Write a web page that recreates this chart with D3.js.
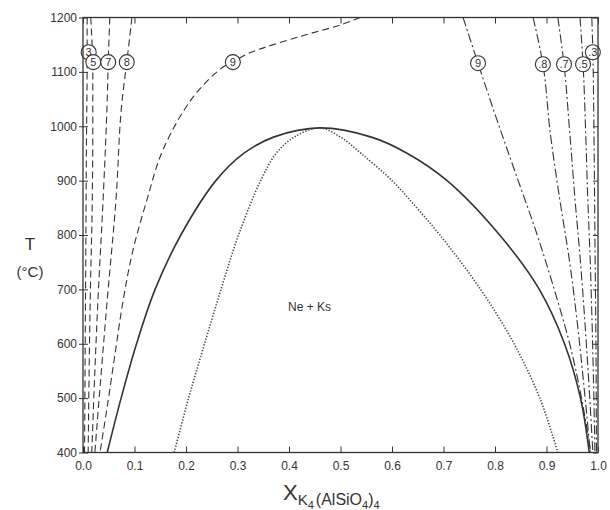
<!DOCTYPE html>
<html>
<head>
<meta charset="utf-8">
<script src="https://cdn.jsdelivr.net/npm/d3@7"></script>
<style>
  body { margin: 0; background: #fff; }
  text { font-family: "Liberation Sans", Arial, sans-serif; fill: #333; }
</style>
</head>
<body>
<svg id="chart"></svg>
<script>
// solvus (solid) and spinodal (dotted), [x, T]
const solvus = [[0.047,400],[0.074,500],[0.104,600],[0.14,700],[0.19,800],[0.258,900],[0.312,950],[0.37,980],[0.46,997],[0.56,980],[0.63,950],[0.707,900],[0.809,800],[0.886,700],[0.935,600],[0.966,500],[0.983,400]]
const spinodal = [[0.177,400],[0.205,500],[0.236,600],[0.268,700],[0.302,800],[0.345,900],[0.375,950],[0.41,980],[0.46,997],[0.5,980],[0.54,950],[0.6,900],[0.648,850],[0.693,800],[0.772,700],[0.837,600],[0.887,500],[0.922,400]]

// isopleths, left branch (dashed)
const leftLines = [
  {label: "3", pos: [0.011,1136], pts: [[0.008,1200],[0.008,1100],[0.007,1000],[0.005,700],[0.003,400]]},
  {label: "5", pos: [0.02,1118], pts: [[0.015,1200],[0.019,1100],[0.019,1000],[0.018,864],[0.014,680],[0.01,400]]},
  {label: "7", pos: [0.049,1118], pts: [[0.052,1200],[0.049,1118],[0.047,1048],[0.039,864],[0.029,680],[0.017,400]]},
  {label: "8", pos: [0.085,1118], pts: [[0.095,1200],[0.085,1118],[0.076,1048],[0.064,864],[0.047,680],[0.023,400]]},
  {label: "9", pos: [0.291,1118], pts: [[0.538,1200],[0.499,1186],[0.421,1165],[0.324,1135],[0.291,1118],[0.272,1109],[0.214,1054],[0.155,956],[0.124,864],[0.097,772],[0.078,680],[0.062,580],[0.047,484],[0.033,400]]}
]
// isopleths, right branch (dash-dot)
const rightLines = [
  {label: "9", pos: [0.767,1116], pts: [[0.738,1200],[0.767,1116],[0.808,1000],[0.845,900],[0.882,800],[0.915,700],[0.945,600],[0.968,500],[0.986,400]]},
  {label: ".8", pos: [0.893,1114], pts: [[0.874,1200],[0.893,1114],[0.907,990],[0.925,870],[0.945,750],[0.962,620],[0.975,500],[0.985,400]]},
  {label: ".7", pos: [0.934,1114], pts: [[0.922,1200],[0.934,1114],[0.945,990],[0.955,870],[0.966,750],[0.976,620],[0.984,500],[0.99,400]]},
  {label: ".5", pos: [0.971,1114], pts: [[0.965,1200],[0.971,1114],[0.976,990],[0.98,870],[0.985,750],[0.989,620],[0.992,500],[0.994,400]]},
  {label: ".3", pos: [0.99,1136], pts: [[0.988,1200],[0.99,1136],[0.992,1000],[0.994,800],[0.996,600],[0.997,400]]}
]

const xTicks = [0, 0.1, 0.2, 0.3, 0.4, 0.5, 0.6, 0.7, 0.8, 0.9, 1.0]
const yTicks = [400, 500, 600, 700, 800, 900, 1000, 1100, 1200]

const width = 610
const height = 510
const marginLeft = 83
const marginRight = 12
const marginTop = 17.5
const marginBottom = 57.5

const svg = d3.select("#chart")
    .attr("width", width)
    .attr("height", height)
    .attr("viewBox", [0, 0, width, height])

const x = d3.scaleLinear([0, 1], [marginLeft, width - marginRight])
const y = d3.scaleLinear([400, 1200], [height - marginBottom, marginTop])
const line = d3.line().x(d => x(d[0])).y(d => y(d[1])).curve(d3.curveMonotoneY)
const lineC = d3.line().x(d => x(d[0])).y(d => y(d[1])).curve(d3.curveCatmullRom.alpha(0.5))

svg.append("clipPath").attr("id", "clip")
  .append("rect")
    .attr("x", marginLeft).attr("y", marginTop)
    .attr("width", width - marginLeft - marginRight)
    .attr("height", height - marginTop - marginBottom)

const plot = svg.append("g").attr("clip-path", "url(#clip)")

plot.append("path")
    .attr("d", lineC(solvus))
    .attr("fill", "none").attr("stroke", "#333").attr("stroke-width", 1.6)

plot.append("path")
    .attr("d", lineC(spinodal))
    .attr("fill", "none").attr("stroke", "#444").attr("stroke-width", 1.6)
    .attr("stroke-dasharray", "1.3,1.7")

leftLines.forEach(d => {
  plot.append("path")
      .attr("d", (d.label === "9" ? lineC : line)(d.pts))
      .attr("fill", "none").attr("stroke", "#333").attr("stroke-width", 1.1)
      .attr("stroke-dasharray", "7,4")
})
rightLines.forEach(d => {
  plot.append("path")
      .attr("d", line(d.pts))
      .attr("fill", "none").attr("stroke", "#333").attr("stroke-width", 1.1)
      .attr("stroke-dasharray", "9,3,2,3")
})

// circled labels
const labels = svg.append("g")
  .selectAll("g")
  .data(leftLines.concat(rightLines))
  .join("g")
    .attr("transform", d => `translate(${x(d.pos[0])},${y(d.pos[1])})`)
labels.append("circle")
    .attr("r", 7.5).attr("fill", "#fff").attr("stroke", "#333").attr("stroke-width", 1.1)
labels.append("text")
    .attr("text-anchor", "middle").attr("dy", "0.36em")
    .attr("font-size", 11)
    .text(d => d.label)

// frame and ticks
svg.append("rect")
    .attr("x", marginLeft).attr("y", marginTop)
    .attr("width", width - marginLeft - marginRight)
    .attr("height", height - marginTop - marginBottom)
    .attr("fill", "none").attr("stroke", "#333").attr("stroke-width", 1.3)

svg.append("g")
    .attr("transform", `translate(0,${height - marginBottom})`)
    .call(d3.axisBottom(x).tickValues(xTicks).tickFormat(d3.format(".1f")).tickSize(-6).tickPadding(9))
    .call(g => g.select(".domain").remove())
    .call(g => g.selectAll("line").attr("stroke", "#333"))
    .call(g => g.selectAll("text").attr("font-size", 12).attr("fill", "#333"))

svg.append("g")
    .attr("transform", `translate(0,${marginTop})`)
    .call(d3.axisTop(x).tickValues(xTicks).tickFormat("").tickSize(-6))
    .call(g => g.select(".domain").remove())
    .call(g => g.selectAll("line").attr("stroke", "#333"))

svg.append("g")
    .attr("transform", `translate(${marginLeft},0)`)
    .call(d3.axisLeft(y).tickValues(yTicks).tickFormat(d3.format("d")).tickSize(5).tickPadding(4))
    .call(g => g.select(".domain").remove())
    .call(g => g.selectAll("line").attr("x2", 5).attr("x1", -4).attr("stroke", "#333"))
    .call(g => g.selectAll("text").attr("font-size", 12).attr("fill", "#333").attr("x", -6))

svg.append("g")
    .attr("transform", `translate(${width - marginRight},0)`)
    .call(d3.axisRight(y).tickValues(yTicks).tickFormat("").tickSize(-5))
    .call(g => g.select(".domain").remove())
    .call(g => g.selectAll("line").attr("stroke", "#333"))

// axis titles
svg.append("text")
    .attr("x", 30).attr("y", 250).attr("text-anchor", "middle")
    .attr("font-size", 17).text("T")
svg.append("text")
    .attr("x", 30).attr("y", 277).attr("text-anchor", "middle")
    .attr("font-size", 15).text("(°C)")

const xl = svg.append("text")
    .attr("x", 283).attr("y", 500).attr("font-size", 22)
xl.append("tspan").text("X")
xl.append("tspan").attr("font-size", 15).attr("dy", 5).text("K")
xl.append("tspan").attr("font-size", 11).attr("dy", 4).text("4")
xl.append("tspan").attr("font-size", 16).attr("dy", -4).attr("dx", 2).text("(AlSiO")
xl.append("tspan").attr("font-size", 11).attr("dy", 4).text("4")
xl.append("tspan").attr("font-size", 16).attr("dy", -4).text(")")
xl.append("tspan").attr("font-size", 11).attr("dy", 4).text("4")

svg.append("text")
    .attr("x", x(0.44)).attr("y", y(660)).attr("text-anchor", "middle")
    .attr("font-size", 12).text("Ne + Ks")
</script>
</body>
</html>
